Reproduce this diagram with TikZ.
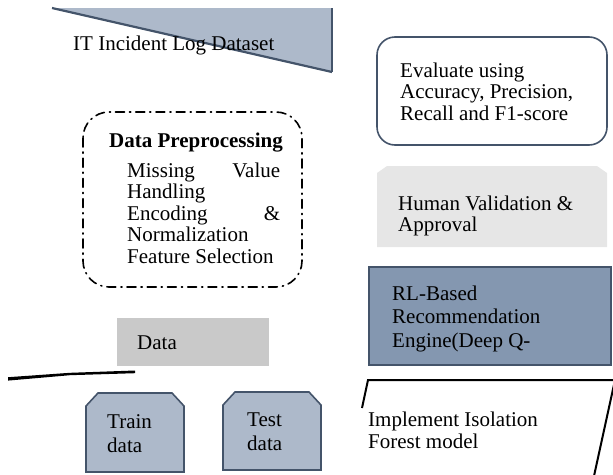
\documentclass[tikz,border=0pt]{standalone}
\usepackage{fontspec}
\setmainfont{Liberation Serif}
\definecolor{slate}{HTML}{44546A}
\definecolor{steel}{HTML}{ADB9CA}
\definecolor{steeldark}{HTML}{8497B0}
\definecolor{boxgray}{HTML}{C9C9C9}
\definecolor{paleg}{HTML}{E6E6E6}
\begin{document}
\begin{tikzpicture}[x=1pt,y=-1pt,
  txt/.style={inner sep=0pt, anchor=base west, font=\fontsize{21}{21}\selectfont},
  outline/.style={draw=slate, line width=1.6pt},
  dashdot/.style={draw=black, line width=1.6pt, line cap=round,
    dash pattern=on 9pt off 5pt on 1.2pt off 5pt, rounded corners=26pt}]
\useasboundingbox (0,0) rectangle (613,474);
\begin{scope}
\clip (0,0) rectangle (613,474);

% dataset banner (wedge)
\fill[steel] (52,8) -- (332,8) -- (332,72) -- cycle;
\draw[slate, line width=2.2pt] (52,8) -- (332,72);
\draw[slate, line width=1.2pt] (332,72) -- (332,8);
\node[txt] (dataset) at (73,50) {IT Incident Log Dataset};

% preprocessing block
\draw[dashdot] (83,112) rectangle (302,287);
\node[txt, font=\fontsize{21}{21}\selectfont\bfseries] (prehead) at (109,147) {Data Preprocessing};
\node[txt] (pre1) at (127,177) {\hbox to 153pt{Missing\hfil Value}};
\node[txt] (pre2) at (127,198) {Handling};
\node[txt] (pre3) at (127,220) {\hbox to 153pt{Encoding\hfil \&}};
\node[txt] (pre4) at (127,241) {Normalization};
\node[txt] (pre5) at (127,263) {Feature Selection};

% data box and split line
\fill[boxgray] (117,318) rectangle (269,366);
\node[txt] (data) at (137,349) {Data};
\fill[black] (8,377.2) -- (70,372.8) -- (135,370.5) -- (135,373.2) -- (70,375.2) -- (8,380.6) -- cycle;

% train / test blocks
\draw[outline, fill=steel] (86,472) -- (86,406) -- (98,393) -- (172,393) -- (184,406) -- (184,472) -- cycle;
\node[txt] (train1) at (107,428) {Train};
\node[txt] (train2) at (107,452) {data};
\draw[outline, fill=steel] (223,470) -- (223,405) -- (235,392) -- (309,392) -- (321,405) -- (321,470) -- cycle;
\node[txt] (test1) at (247,426) {Test};
\node[txt] (test2) at (247,450) {data};

% evaluation block
\draw[outline, rounded corners=18pt] (377,37) rectangle (607,145);
\node[txt] (eval1) at (400,77) {Evaluate using};
\node[txt] (eval2) at (400,98) {Accuracy, Precision,};
\node[txt] (eval3) at (400,120) {Recall and F1-score};

% human validation block
\fill[paleg] (377,247) -- (377,173) -- (387,166) -- (597,166) -- (607,173) -- (607,247) -- cycle;
\node[txt] (human1) at (398,210) {Human Validation \&};
\node[txt] (human2) at (398,231) {Approval};

% recommendation engine block
\draw[outline, fill=steeldark, line width=2pt] (369,267) rectangle (611,365);
\node[txt] (rl1) at (392,300) {RL-Based};
\node[txt] (rl2) at (392,323) {Recommendation};
\node[txt] (rl3) at (392,347) {Engine(Deep Q-};

% isolation forest block (parallelogram)
\draw[black, line width=2pt] (362,408) -- (368,380) -- (616,380);
\draw[black, line width=2pt] (615,380) -- (594,476);
\node[txt] (iso1) at (368,426) {Implement Isolation};
\node[txt] (iso2) at (368,448) {Forest model};
\end{scope}
\end{tikzpicture}
\end{document}
